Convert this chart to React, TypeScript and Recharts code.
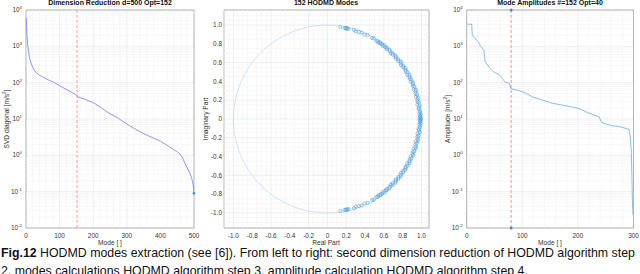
import React from "react";
import {
  LineChart,
  Line,
  ScatterChart,
  Scatter,
  XAxis,
  YAxis,
  CartesianGrid,
  ReferenceLine,
  ReferenceArea,
  ReferenceDot,
} from "recharts";

// --- data ---
const svdModes = [1, 2, 3, 5, 8, 11, 15, 20, 28, 40, 52, 70, 85, 102, 125, 151, 155, 175, 201, 225, 250, 275, 300, 325, 349, 375, 399, 420, 439, 450, 458, 466, 473, 480, 488, 494, 497, 499, 500];
const svdValues = [6000, 3000, 2000, 1100, 700, 450, 350, 260, 200, 160, 140, 115, 100, 80, 62, 45, 40, 35, 28, 20, 14, 10.5, 7.3, 5.3, 4.0, 3.1, 2.5, 1.9, 1.45, 1.25, 1.1, 0.85, 0.6, 0.45, 0.32, 0.22, 0.16, 0.12, 0.09];

const ampModes = [1, 9, 10, 15, 21, 25, 31, 33, 42, 48, 60, 68, 77, 79, 95, 107, 119, 137, 155, 179, 202, 220, 238, 243, 262, 274, 292, 294, 296, 297, 298, 299];
const ampValues = [4070, 4070, 2040, 1650, 1350, 980, 790, 380, 250, 200, 160, 107, 95, 69, 60, 51, 40, 33, 27, 23, 19.5, 14.5, 11.5, 7.9, 6.5, 6.2, 5.2, 3.2, 1.4, 0.32, 0.059, 0.023];

// eigenvalue arguments (deg) of the upper half; lower half is the conjugate
const modeAngles = [82, 79.2, 78.6, 78.1, 77.6, 76.8, 73.4, 72.1, 70.2, 68.5, 66.3, 64.4, 61.2, 60.1, 57.8, 57.1, 56.2, 55.4, 54.9, 53.8, 52.9, 52.2, 51.1, 50.3, 49.6, 48.2, 47.5, 46.1, 45.4, 44.6, 43.1, 42.3, 41.5, 40.2, 39.4, 38.1, 37.3, 36.2, 35.1, 34.3, 33.2, 32.1, 31.4, 30.2, 29.1, 28.3, 27.2, 26.1, 25.3, 24.2, 23.1, 22.4, 21.2, 20.3, 19.1, 18.2, 17.4, 16.1, 15.2, 14.1, 13.3, 12.2, 11.1, 10.3, 9.2, 8.1, 7.2, 6.3, 5.1, 4.2, 3.4, 2.6, 1.9, 1.2, 0.7, 0.3];
const modeModuli = [0.99, 0.985, 0.99, 0.98, 0.99, 0.985, 0.99, 0.98, 0.985, 0.99, 0.98, 0.99, 0.985, 0.99, 0.98, 0.985, 0.975, 0.99, 0.98, 0.985, 0.975, 0.99, 0.98, 0.985, 0.975, 0.99, 0.98, 0.97, 0.985, 0.975, 0.99, 0.98, 0.97, 0.985, 0.975, 0.99, 0.98, 0.97, 0.985, 0.975, 0.99, 0.98, 0.975, 0.985, 0.97, 0.99, 0.98, 0.975, 0.985, 0.97, 0.99, 0.98, 0.975, 0.985, 0.97, 0.99, 0.98, 0.975, 0.985, 0.97, 0.99, 0.98, 0.975, 0.985, 0.97, 0.99, 0.98, 0.975, 0.985, 0.99, 0.98, 0.995, 0.985, 0.99, 0.98, 0.995];

const modeTicks = [0, 100, 200, 300, 400, 500];
const ampTicks = [0, 100, 200, 300];
const logTicks = [0.01, 0.1, 1, 10, 100, 1000, 10000];
const unitTicks = [-1, -0.8, -0.6, -0.4, -0.2, 0, 0.2, 0.4, 0.6, 0.8, 1];

// --- derived tables ---
const svdData = svdModes.map((m, i) => ({ m, v: svdValues[i] }));
const ampData = ampModes.map((m, i) => ({ m, v: ampValues[i] }));
const rad = (a: number) => (a * Math.PI) / 180;
const modesData = [
  ...modeAngles.map((a, i) => ({ x: modeModuli[i] * Math.cos(rad(a)), y: modeModuli[i] * Math.sin(rad(a)) })),
  ...modeAngles.map((a, i) => ({ x: modeModuli[i] * Math.cos(rad(a)), y: -modeModuli[i] * Math.sin(rad(a)) })),
];
// unit circle reference
const circleData = Array.from({ length: 181 }, (_, i) => ({ x: Math.cos(rad(i * 2)), y: Math.sin(rad(i * 2)) }));

const logMinor: number[] = [];
[0.01, 0.1, 1, 10, 100, 1000].forEach((d) => {
  for (let k = 2; k <= 9; k++) logMinor.push(d * k);
});
const range = (a: number, b: number, s: number) => {
  const out: number[] = [];
  for (let v = a; v <= b + 1e-9; v += s) out.push(Math.round(v * 1000) / 1000);
  return out;
};
const svdMinorX = range(20, 480, 20).filter((v) => v % 100 !== 0);
const ampMinorX = range(20, 280, 20).filter((v) => v % 100 !== 0);
const unitMinor = range(-1.1, 1.1, 0.05).filter((v) => Math.abs(Math.round(v * 5) / 5 - v) > 1e-6);

const FONT = "'Liberation Sans', Arial, Helvetica, sans-serif";
const TICK = { fontSize: 6.4, fill: "#333", fontFamily: FONT };
const GRID = "#e2e2e2";
const MINOR = "#f1f1f1";
const FRAME = "#8a8a8a";

const LogTick = (props: any) => {
  const { x, y, payload } = props;
  const exp = Math.round(Math.log10(payload.value));
  return (
    <text x={x} y={y + 2} textAnchor="end" fontSize={6.4} fill="#333" fontFamily={FONT}>
      10
      <tspan dy={-3} fontSize={4.4}>
        {exp}
      </tspan>
    </text>
  );
};

const fmtUnit = (v: number) => (Math.abs(v) < 1e-9 ? "0" : v.toFixed(1));

const Title = ({ x, children }: { x: number; children: React.ReactNode }) => (
  <div style={{ position: "absolute", left: x - 100, width: 200, top: -1, textAlign: "center", fontSize: 7, fontWeight: "bold", color: "#111", fontFamily: FONT, whiteSpace: "nowrap" }}>
    {children}
  </div>
);
const XLabel = ({ x, children }: { x: number; children: React.ReactNode }) => (
  <div style={{ position: "absolute", left: x - 60, width: 120, top: 239, textAlign: "center", fontSize: 6.6, lineHeight: "8px", color: "#333", fontFamily: FONT }}>
    {children}
  </div>
);
const YLabel = ({ x, children }: { x: number; children: React.ReactNode }) => (
  <div style={{ position: "absolute", left: x - 60, top: 115, width: 120, textAlign: "center", fontSize: 6.6, lineHeight: "8px", color: "#333", fontFamily: FONT, transform: "rotate(-90deg)", whiteSpace: "nowrap" }}>
    {children}
  </div>
);

export default function App() {
  return (
    <div style={{ position: "absolute", left: 0, top: 0, width: 640, height: 274, overflow: "hidden", background: "#fff" }}>
      {/* panel 1 */}
      <div style={{ position: "absolute", left: 0, top: 0 }}>
        <LineChart width={200} height={250} data={svdData} margin={{ top: 10, right: 6, bottom: 0, left: 0 }}>
          {logMinor.map((v) => (
            <ReferenceLine key={"h" + v} y={v} stroke={MINOR} strokeWidth={0.6} />
          ))}
          {svdMinorX.map((v) => (
            <ReferenceLine key={"v" + v} x={v} stroke={MINOR} strokeWidth={0.6} />
          ))}
          <CartesianGrid stroke={GRID} strokeWidth={0.6} />
          <XAxis type="number" dataKey="m" domain={[0, 500]} ticks={modeTicks} height={22} axisLine={false} tickLine={false} tickSize={2} tickMargin={3.5} tick={TICK} allowDataOverflow />
          <YAxis type="number" scale="log" domain={[0.01, 10000]} ticks={logTicks} width={26} axisLine={false} tickLine={false} tickSize={2} tickMargin={2} tick={<LogTick />} allowDataOverflow />
          <ReferenceLine x={152} stroke="#ff8a8a" strokeDasharray="3 2" strokeWidth={0.9} />
          <Line type="linear" dataKey="v" stroke="#6f7ff5" strokeWidth={0.8} dot={false} isAnimationActive={false} />
          <ReferenceDot x={500} y={0.09} r={1.3} fill="#3b8ad9" stroke="none" />
          <ReferenceArea x1={0} x2={500} y1={0.01} y2={10000} fill="none" stroke={FRAME} strokeWidth={0.6} />
        </LineChart>
      </div>

      {/* panel 2 */}
      <div style={{ position: "absolute", left: 200, top: 0 }}>
        <ScatterChart width={240} height={250} margin={{ top: 10, right: 11, bottom: 0, left: 0 }}>
          {unitMinor.map((v) => (
            <ReferenceLine key={"h" + v} y={v} stroke={MINOR} strokeWidth={0.6} />
          ))}
          {unitMinor.map((v) => (
            <ReferenceLine key={"v" + v} x={v} stroke={MINOR} strokeWidth={0.6} />
          ))}
          <CartesianGrid stroke={GRID} strokeWidth={0.6} />
          <XAxis type="number" dataKey="x" domain={[-1.1, 1.08]} ticks={unitTicks} tickFormatter={fmtUnit} height={22} axisLine={false} tickLine={false} tickSize={2} tickMargin={3.5} tick={TICK} allowDataOverflow />
          <YAxis type="number" dataKey="y" domain={[-1.16, 1.16]} ticks={unitTicks} tickFormatter={fmtUnit} width={24} axisLine={false} tickLine={false} tickSize={1} tickMargin={1} tick={TICK} allowDataOverflow />
          <ReferenceLine x={0} stroke="#d8e4f0" strokeWidth={0.6} />
          <ReferenceLine y={0} stroke="#d8e4f0" strokeWidth={0.6} />
          <Scatter data={circleData} line={{ stroke: "#bcd5ee", strokeWidth: 0.7 }} lineType="joint" shape={() => <g />} isAnimationActive={false} />
          <Scatter
            data={modesData}
            isAnimationActive={false}
            shape={(p: any) => <circle cx={p.cx} cy={p.cy} r={1.6} fill="none" stroke="#4f9ddf" strokeWidth={0.6} />}
          />
          <ReferenceArea x1={-1.1} x2={1.08} y1={-1.16} y2={1.16} fill="none" stroke={FRAME} strokeWidth={0.6} />
        </ScatterChart>
      </div>

      {/* panel 3 */}
      <div style={{ position: "absolute", left: 440, top: 0 }}>
        <LineChart width={200} height={250} data={ampData} margin={{ top: 10, right: 6.5, bottom: 0, left: 0 }}>
          {logMinor.map((v) => (
            <ReferenceLine key={"h" + v} y={v} stroke={MINOR} strokeWidth={0.6} />
          ))}
          {ampMinorX.map((v) => (
            <ReferenceLine key={"v" + v} x={v} stroke={MINOR} strokeWidth={0.6} />
          ))}
          <CartesianGrid stroke={GRID} strokeWidth={0.6} />
          <XAxis type="number" dataKey="m" domain={[0, 300]} ticks={ampTicks} height={22} axisLine={false} tickLine={false} tickSize={2} tickMargin={3.5} tick={TICK} allowDataOverflow />
          <YAxis type="number" scale="log" domain={[0.01, 10000]} ticks={logTicks} width={26.7} axisLine={false} tickLine={false} tickSize={2} tickMargin={2} tick={<LogTick />} allowDataOverflow />
          <ReferenceLine x={80} stroke="#ff8a8a" strokeDasharray="3 2" strokeWidth={0.9} />
          <Line type="linear" dataKey="v" stroke="#6aaee6" strokeWidth={0.8} dot={false} isAnimationActive={false} />
          <ReferenceDot x={80} y={10000} r={1.5} fill="#3b8ad9" stroke="none" />
          <ReferenceDot x={80} y={0.01} r={1.5} fill="#3b8ad9" stroke="none" />
          <ReferenceArea x1={0} x2={300} y1={0.01} y2={10000} fill="none" stroke={FRAME} strokeWidth={0.6} />
        </LineChart>
      </div>

      <Title x={110}>Dimension Reduction d=500 Opt=152</Title>
      <Title x={326}>152 HODMD Modes</Title>
      <Title x={550}>Mode Amplitudes #=152 Opt=40</Title>
      <XLabel x={110}>Mode [ ]</XLabel>
      <XLabel x={326}>Real Part</XLabel>
      <XLabel x={550}>Mode [ ]</XLabel>
      <YLabel x={7}>SVD diagonal [m/s<sup style={{ fontSize: 4.5, lineHeight: 0 }}>2</sup>]</YLabel>
      <YLabel x={206}>Imaginary Part</YLabel>
      <YLabel x={448}>Amplitude [m/s<sup style={{ fontSize: 4.5, lineHeight: 0 }}>2</sup>]</YLabel>

      <div style={{ position: "absolute", left: 1, top: 245, width: 660, fontFamily: FONT, fontSize: 12.35, lineHeight: "17.5px", color: "#111", whiteSpace: "nowrap" }}>
        <div>
          <b>Fig.12</b> HODMD modes extraction (see [6]). From left to right: second dimension reduction of HODMD algorithm step
        </div>
        <div>2, modes calculations HODMD algorithm step 3, amplitude calculation HODMD algorithm step 4.</div>
      </div>
    </div>
  );
}
